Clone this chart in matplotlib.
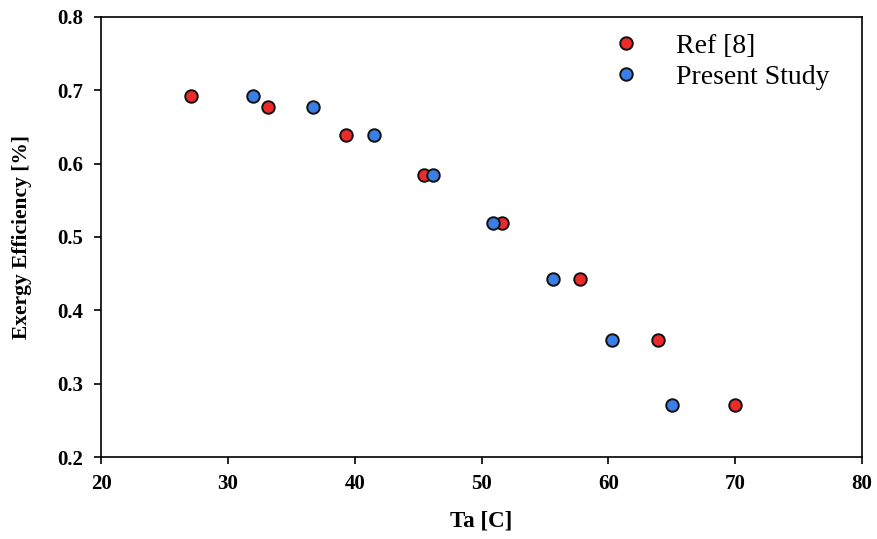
import matplotlib
matplotlib.use("Agg")
import matplotlib.pyplot as plt

ref_x = [27.1, 33.2, 39.3, 45.5, 51.6, 57.8, 63.9, 70.0]
ref_y = [0.692, 0.677, 0.639, 0.584, 0.519, 0.443, 0.360, 0.271]
present_x = [32.0, 36.7, 41.5, 46.2, 50.9, 55.6, 60.3, 65.0]
present_y = [0.692, 0.677, 0.639, 0.584, 0.519, 0.443, 0.360, 0.271]
xticks = [20, 30, 40, 50, 60, 70, 80]
yticks = [0.2, 0.3, 0.4, 0.5, 0.6, 0.7, 0.8]

plt.rcParams['font.family'] = ['Liberation Serif', 'DejaVu Serif']

fig = plt.figure(figsize=(8.77, 5.39), dpi=100)
ax = fig.add_axes([0.1152, 0.1521, 0.8677, 0.8164])

ax.plot(ref_x, ref_y, linestyle='none', marker='o', markersize=9,
        markerfacecolor='#ec2a2a', markeredgecolor='#111111', markeredgewidth=1.4,
        label='Ref [8]', zorder=3)
ax.plot(present_x, present_y, linestyle='none', marker='o', markersize=9,
        markerfacecolor='#3a7fe6', markeredgecolor='#111111', markeredgewidth=1.4,
        label='Present Study', zorder=3)

ax.set_xlim(20, 80)
ax.set_ylim(0.2, 0.8)
ax.set_xticks(xticks)
ax.set_yticks(yticks)
ax.set_xticklabels([str(t) for t in xticks], fontweight='bold', fontsize=15)
ax.set_yticklabels([f"{t:.1f}" for t in yticks], fontweight='bold', fontsize=15)
ax.tick_params(axis='y', direction='out', length=5, width=1.2, pad=8)
ax.tick_params(axis='x', direction='out', length=5, width=1.2, pad=7)
for s in ax.spines.values():
    s.set_linewidth(1.2)

ax.set_xlabel('Ta [C]', fontweight='bold', fontsize=16.5, labelpad=12)
ax.set_ylabel('Exergy Efficiency [%]', fontweight='bold', fontsize=15.5, labelpad=18)

leg = ax.legend(loc='upper left', bbox_to_anchor=(601 / 877, 1 - 22 / 539),
                bbox_transform=fig.transFigure, frameon=False,
                fontsize=20, handlelength=1.0, handletextpad=1.3,
                labelspacing=0.2, borderaxespad=0.0, borderpad=0.4)

fig.savefig('out.png', dpi=100)
